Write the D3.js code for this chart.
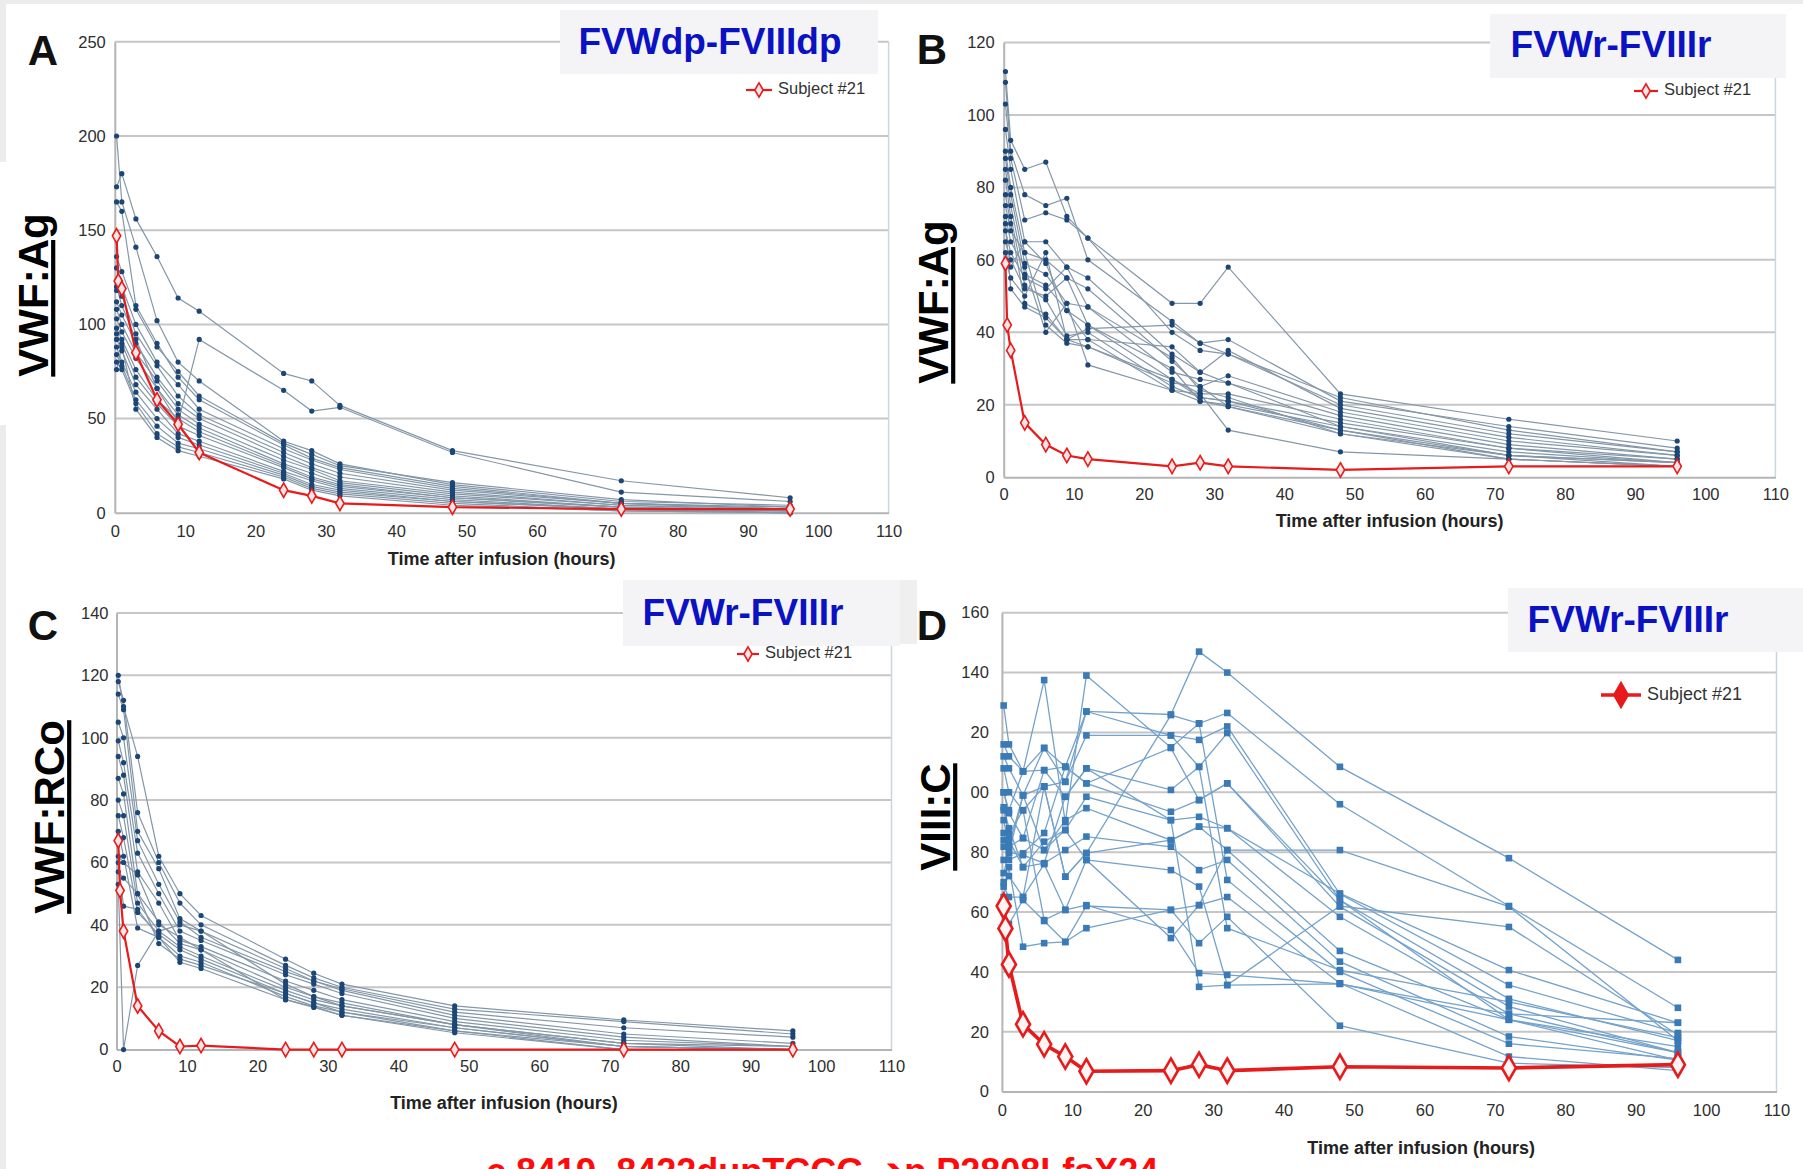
<!DOCTYPE html>
<html lang="en">
<head>
<meta charset="UTF-8">
<title>VWF / FVIII recovery after infusion</title>
<script src="https://d3js.org/d3.v7.min.js"></script>
<style>
  body { margin: 0; background: #fff; }
  svg text { font-family: "Liberation Sans", Arial, sans-serif; }
</style>
</head>
<body>
<script>
const width = 1803, height = 1169;

// sampling times (hours after infusion)
const times    = [0.25, 1, 3, 6, 9, 12, 24, 28, 32, 48, 72, 96];
const redTimes = [0.25, 0.5, 1, 3, 6, 9, 12, 24, 28, 32, 48, 72, 96];

const xTicks  = [0, 10, 20, 30, 40, 50, 60, 70, 80, 90, 100, 110];
const yTicksA = [0, 50, 100, 150, 200, 250];
const yTicksB = [0, 20, 40, 60, 80, 100, 120];
const yTicksC = [0, 20, 40, 60, 80, 100, 120, 140];
const yTicksD = [0, 20, 40, 60, 80, 100, 120, 140, 160];

// A: VWF:Ag after FVWdp-FVIIIdp
const agDp = [
  [173, 180, 156, 136, 114, 107, 74, 70, 57, 33, 17, 8],
  [200, 165, 141, 102, 80, 70, 38, 33, 26, 15, 6, 4],
  [120, 110, 92, 66, 48, 92, 65, 54, 56, 32, 11, 6],
  [165, 160, 110, 90, 72, 60, 36, 29, 24, 14, 5, 3],
  [136, 128, 108, 88, 75, 62, 37, 31, 25, 16, 7, 3],
  [130, 120, 100, 80, 68, 55, 34, 28, 23, 13, 5, 2],
  [118, 115, 95, 78, 62, 52, 32, 26, 21, 12, 5, 2],
  [112, 105, 90, 72, 58, 50, 30, 24, 19, 11, 4, 2],
  [108, 100, 85, 70, 55, 47, 28, 23, 17, 10, 4, 1],
  [103, 96, 82, 66, 52, 45, 26, 21, 16, 9, 3, 1],
  [98, 92, 76, 60, 50, 43, 25, 19, 15, 8, 3, 1],
  [95, 90, 72, 58, 46, 41, 24, 18, 14, 8, 3, 1],
  [92, 86, 68, 55, 42, 38, 22, 17, 13, 7, 2, 1],
  [88, 80, 64, 50, 40, 36, 21, 15, 12, 6, 2, 0],
  [84, 78, 60, 46, 37, 34, 20, 14, 11, 6, 2, 0],
  [80, 76, 58, 42, 35, 32, 19, 13, 10, 5, 1, 0],
  [76, 88, 55, 40, 33, 30, 18, 12, 9, 4, 1, 0]
];
const agDpRed = [147, 123, 119, 85, 60, 47, 32, 12, 9, 5, 3, 2, 2];

// B: VWF:Ag after FVWr-FVIIIr
const agR = [
  [112, 93, 85, 87, 72, 66, 48, 48, 58, 23, 16, 10],
  [109, 90, 78, 75, 77, 60, 43, 37, 38, 21, 14, 8],
  [103, 88, 71, 73, 71, 66, 40, 35, 34, 20, 12, 7],
  [96, 85, 65, 65, 58, 55, 34, 29, 35, 19, 11, 6],
  [90, 80, 62, 60, 55, 52, 32, 25, 28, 18, 10, 6],
  [88, 78, 59, 56, 48, 47, 29, 27, 26, 17, 9, 5],
  [85, 75, 56, 53, 46, 42, 27, 23, 23, 16, 8, 5],
  [82, 72, 53, 49, 39, 40, 25, 22, 21, 15, 8, 4],
  [78, 70, 48, 45, 38, 38, 24, 21, 20, 14, 7, 4],
  [75, 68, 62, 42, 37, 36, 26, 25, 19.5, 13, 6, 4],
  [72, 65, 58, 40, 48, 31, 24, 23, 13, 7, 5, 3],
  [68, 62, 55, 52, 58, 47, 33, 24, 22, 12, 6, 3],
  [65, 60, 52, 50, 55, 42, 30, 21, 19.5, 12, 5, 3],
  [62, 58, 65, 59, 46, 38, 36, 29, 26, 14, 6, 4],
  [60, 55, 50, 62, 38, 36, 27, 22, 21, 13, 5, 3],
  [70, 52, 47, 44, 38, 41, 42, 37, 34, 22, 13, 7]
];
const agRRed = [59, 42, 35, 15, 9, 6, 5, 3, 4, 3, 2, 3, 3];

// C: VWF:RCo after FVWr-FVIIIr
const rcoR = [
  [120, 110, 94, 62, 50, 43, 29, 24.5, 21, 14, 9.5, 6],
  [118, 112, 76, 60, 47, 40, 27, 23, 20, 13, 9, 5],
  [114, 109, 70, 58, 42, 38, 26, 22, 19.5, 12, 7, 4],
  [105, 100, 67, 53, 41, 36, 25, 22, 19, 11, 5, 2],
  [99, 92, 63, 50, 38, 35, 24, 21, 18, 10, 4, 1],
  [94, 88, 57, 47, 35, 33, 22, 19, 16, 9, 3, 1],
  [87, 82, 50, 41, 34, 32, 20, 17, 15, 8, 2, 0],
  [80, 75, 47, 38, 33, 30, 19, 16, 14, 8, 1, 0],
  [75, 68, 44, 37, 32, 29, 18, 15, 13, 7, 1, 0],
  [70, 62, 39, 36, 30, 28, 17, 14, 12, 6, 0, 0],
  [62, 60, 56, 40, 36, 32, 16, 13.8, 11, 5.4, 0, 0],
  [57, 55, 50, 34, 29, 27, 18, 15, 12, 7, 1, 0],
  [53, 0, 27, 38, 40, 38, 21, 17, 14, 8, 2, 1],
  [60, 46, 45, 36, 28, 26, 16, 13.5, 11, 6, 1, 0]
];
const rcoRRed = [67, 51, 38, 14, 6, 1, 1.3, 0, 0, 0, 0, 0, 0];

// D: FVIII:C after FVWr-FVIIIr
const f8R = [
  [112, 108, 99, 114.8, 108.5, 127, 126, 147, 140, 108.5, 78, 44],
  [100, 94, 107, 137.5, 90, 139, 115, 123, 126.5, 96, 62, 28],
  [94, 86, 94, 102, 103.5, 119, 119, 117.5, 122, 66, 35.6, 19.6],
  [90.7, 81.8, 84.7, 107.4, 98.5, 108, 100.8, 108.5, 119.8, 64, 31, 17],
  [86.4, 77.4, 79.6, 86.4, 108.5, 103, 93.5, 97.4, 103, 61.8, 28.4, 13],
  [81.8, 84, 75, 83.5, 87.4, 98.5, 90.7, 91.8, 88, 58.4, 26, 23],
  [77.4, 79.6, 99, 80.7, 90.7, 94.7, 84, 88.5, 80.7, 47, 24, 13],
  [73, 80, 79, 76.3, 80.7, 85.2, 81.8, 74, 77.4, 43.4, 18.4, 10.5],
  [68.5, 65, 65, 101.9, 71.8, 79.7, 125.8, 123, 70.7, 40, 16, 11],
  [65, 75, 48.4, 49.6, 50, 54.6, 60.7, 62.3, 65, 36.2, 11.7, 7],
  [60, 56, 64, 57, 50, 62, 60.7, 49.6, 58.4, 22, 9.5, 8],
  [108, 100, 94, 57.3, 60.7, 62.3, 54, 39.6, 39, 36, 24, 15],
  [116, 112, 107, 114.8, 103.5, 127, 119, 108.5, 54.6, 40.6, 30, 18],
  [100, 93, 84.7, 80.7, 87.4, 77.4, 74, 68.5, 35.6, 36, 26, 13],
  [95, 88, 75, 76.3, 98.5, 108, 90.7, 35, 35.6, 62, 55, 19],
  [84, 82, 99, 101.9, 71.8, 79.7, 84, 88.5, 88, 66.2, 40.6, 23],
  [70, 72, 65, 76, 60.7, 77.4, 51.3, 62.3, 80.7, 80.7, 61.8, 17],
  [129, 116, 107, 107.4, 108.5, 103, 114.8, 97.4, 103, 64, 24, 10.5]
];
const f8RRed = [62, 54.5, 42.5, 22.5, 15.8, 11.7, 6.8, 7, 9, 7, 8.3, 7.9, 9];

const panels = [
  { letter: "A", title: "FVWdp-FVIIIdp", yLabel: "VWF:Ag", data: agDp, red: agDpRed, yTicks: yTicksA,
    left: 114.8, right: 888.6, bottom: 512.8, top: 41.8, pad: 9, xPad: 12, xTitleY: 560, yLabelX: 37, yLabelY: 295,
    letterX: 43, letterY: 65, box: [560, 10, 318, 64], titleX: 710, titleY: 44,
    legX: 746, legY: 90, legLen: 26, style: "dark" },
  { letter: "B", title: "FVWr-FVIIIr", yLabel: "VWF:Ag", data: agR, red: agRRed, yTicks: yTicksB,
    left: 1003.7, right: 1775.4, bottom: 477.2, top: 42.5, pad: 9, xPad: 11, xTitleY: 522, yLabelX: 937, yLabelY: 302,
    letterX: 932, letterY: 64, box: [1490, 14, 296, 64], titleX: 1611, titleY: 47,
    legX: 1634, legY: 91, legLen: 24, style: "dark" },
  { letter: "C", title: "FVWr-FVIIIr", yLabel: "VWF:RCo", data: rcoR, red: rcoRRed, yTicks: yTicksC,
    left: 116.5, right: 891.5, bottom: 1049.6, top: 613, pad: 8, xPad: 11, xTitleY: 1104, yLabelX: 53, yLabelY: 817,
    letterX: 43, letterY: 640, box: [623, 580, 277, 66], titleX: 743, titleY: 615,
    legX: 737, legY: 654, legLen: 22, style: "dark" },
  { letter: "D", title: "FVWr-FVIIIr", yLabel: "VIII:C", data: f8R, red: f8RRed, yTicks: yTicksD,
    left: 1001.9, right: 1776.5, bottom: 1091.6, top: 612.7, pad: 13, xPad: 13, xTitleY: 1149, yLabelX: 939, yLabelY: 817,
    letterX: 932, letterY: 640, box: [1508, 588, 295, 64], titleX: 1628, titleY: 622,
    legX: 1601, legY: 695, legLen: 40, style: "light", cover: [900, 715, 71, 165] }
];

const svg = d3.select("body").append("svg")
  .attr("width", width).attr("height", height);

svg.append("rect").attr("width", width).attr("height", height).attr("fill", "#fff");
// scan edges of the original figure
svg.append("rect").attr("x", 0).attr("y", 0).attr("width", width).attr("height", 4).attr("fill", "#ececec");
svg.append("rect").attr("x", 0).attr("y", 0).attr("width", 6).attr("height", 162).attr("fill", "#ececec");
svg.append("rect").attr("x", 0).attr("y", 425).attr("width", 6).attr("height", 744).attr("fill", "#ececec");
svg.append("rect").attr("x", 900).attr("y", 580).attr("width", 17).attr("height", 64).attr("fill", "#efefef");

function drawPanel(p) {
  const x = d3.scaleLinear().domain([0, 110]).range([p.left, p.right]);
  const y = d3.scaleLinear().domain([0, d3.max(p.yTicks)]).range([p.bottom, p.top]);
  const g = svg.append("g");
  const light = p.style === "light";

  // horizontal gridlines
  g.selectAll("line.grid").data(p.yTicks.filter(v => v > 0)).join("line")
    .attr("x1", x(0)).attr("x2", x(110))
    .attr("y1", d => y(d)).attr("y2", d => y(d))
    .attr("stroke", "#c6c6c6").attr("stroke-width", 2);
  // right frame
  g.append("line")
    .attr("x1", x(110)).attr("x2", x(110)).attr("y1", y(0)).attr("y2", y(d3.max(p.yTicks)))
    .attr("stroke", "#c9d6de").attr("stroke-width", 1.5);

  // axes
  const ya = g.append("g").attr("transform", `translate(${x(0)},0)`)
    .call(d3.axisLeft(y).tickValues(p.yTicks).tickSize(0).tickPadding(p.pad));
  const xa = g.append("g").attr("transform", `translate(0,${y(0)})`)
    .call(d3.axisBottom(x).tickValues(xTicks).tickSize(0).tickPadding(p.xPad));
  [ya, xa].forEach(a => {
    a.select(".domain").attr("stroke", "#b4b4b4").attr("stroke-width", 2);
    a.selectAll("text").attr("font-family", "'Liberation Sans', Arial, sans-serif")
      .attr("font-size", 16.5).attr("fill", "#2e2e2e");
  });

  // subjects
  const line = d3.line().defined(d => d[1] != null).x(d => x(d[0])).y(d => y(d[1]));
  const series = p.data.map(vals => vals.map((v, i) => [times[i], v]));
  g.selectAll("path.subj").data(series).join("path")
    .attr("d", line).attr("fill", "none")
    .attr("stroke", light ? "#74a2ca" : "#8497a8")
    .attr("stroke-width", light ? 1.3 : 1.2);
  const pts = series.flat();
  if (light) {
    g.selectAll("rect.pt").data(pts).join("rect")
      .attr("x", d => x(d[0]) - 3.3).attr("y", d => y(d[1]) - 3.3)
      .attr("width", 6.6).attr("height", 6.6).attr("fill", "#3a7ab6");
  } else {
    g.selectAll("circle.pt").data(pts).join("circle")
      .attr("cx", d => x(d[0])).attr("cy", d => y(d[1])).attr("r", 2.6)
      .attr("fill", "#1b4676");
  }

  // subject #21
  const red = p.red.map((v, i) => [redTimes[i], v]);
  const dSym = d3.symbol().type(d3.symbolDiamond).size(light ? 170 : 60);
  g.append("path").attr("d", line(red)).attr("fill", "none")
    .attr("stroke", "#e61b1b").attr("stroke-width", light ? 3.6 : 2.2);
  g.selectAll("path.rd").data(red).join("path")
    .attr("d", dSym).attr("transform", d => `translate(${x(d[0])},${y(d[1])})`)
    .attr("fill", light ? "#fff4f4" : "#fbe3e3").attr("stroke", "#e61b1b")
    .attr("stroke-width", light ? 2.6 : 1.6);

  // cover box (clips tick labels under the y label in D)
  if (p.cover) {
    svg.append("rect").attr("x", p.cover[0]).attr("y", p.cover[1])
      .attr("width", p.cover[2]).attr("height", p.cover[3]).attr("fill", "#fff");
  }

  // axis title
  svg.append("text").attr("x", (x(0) + x(110)) / 2 + (light ? 32 : 0))
    .attr("y", p.xTitleY).attr("text-anchor", "middle").attr("dominant-baseline", "middle")
    .attr("font-size", 18).attr("font-weight", "bold").attr("fill", "#222")
    .text("Time after infusion (hours)");

  // y label
  svg.append("text")
    .attr("transform", `translate(${p.yLabelX},${p.yLabelY}) rotate(-90)`)
    .attr("text-anchor", "middle").attr("dominant-baseline", "middle")
    .attr("font-size", 42).attr("font-weight", "bold").attr("fill", "#000")
    .attr("text-decoration", "underline")
    .text(p.yLabel);

  // panel letter
  svg.append("text").attr("x", p.letterX).attr("y", p.letterY)
    .attr("text-anchor", "middle").attr("font-size", 42).attr("font-weight", "bold")
    .attr("fill", "#111").text(p.letter);

  // product title box
  svg.append("rect").attr("x", p.box[0]).attr("y", p.box[1])
    .attr("width", p.box[2]).attr("height", p.box[3]).attr("fill", "#f4f4f6");
  svg.append("text").attr("x", p.titleX).attr("y", p.titleY)
    .attr("text-anchor", "middle").attr("dominant-baseline", "middle")
    .attr("font-size", 37).attr("font-weight", "bold").attr("fill", "#0a12c4")
    .text(p.title);

  // legend
  const lg = svg.append("g");
  lg.append("line").attr("x1", p.legX).attr("x2", p.legX + p.legLen)
    .attr("y1", p.legY).attr("y2", p.legY)
    .attr("stroke", "#e61b1b").attr("stroke-width", light ? 3.6 : 2.2);
  lg.append("path").attr("d", dSym)
    .attr("transform", `translate(${p.legX + p.legLen / 2},${p.legY})`)
    .attr("fill", light ? "#e61b1b" : "#fbe3e3").attr("stroke", "#e61b1b")
    .attr("stroke-width", light ? 2 : 1.6);
  lg.append("text").attr("x", p.legX + p.legLen + 6).attr("y", p.legY)
    .attr("dominant-baseline", "middle")
    .attr("font-size", light ? 18 : 16.5).attr("fill", "#333")
    .text("Subject #21");
}

panels.forEach(drawPanel);

// mutation annotation, cut by the bottom edge as in the source figure
svg.append("text").attr("x", 486).attr("y", 1184)
  .attr("font-size", 36).attr("font-weight", "bold").attr("fill", "#ff0a0a")
  .text("c.8419_8422dupTCCG \u2794p.P2808LfsX24");
</script>
</body>
</html>
